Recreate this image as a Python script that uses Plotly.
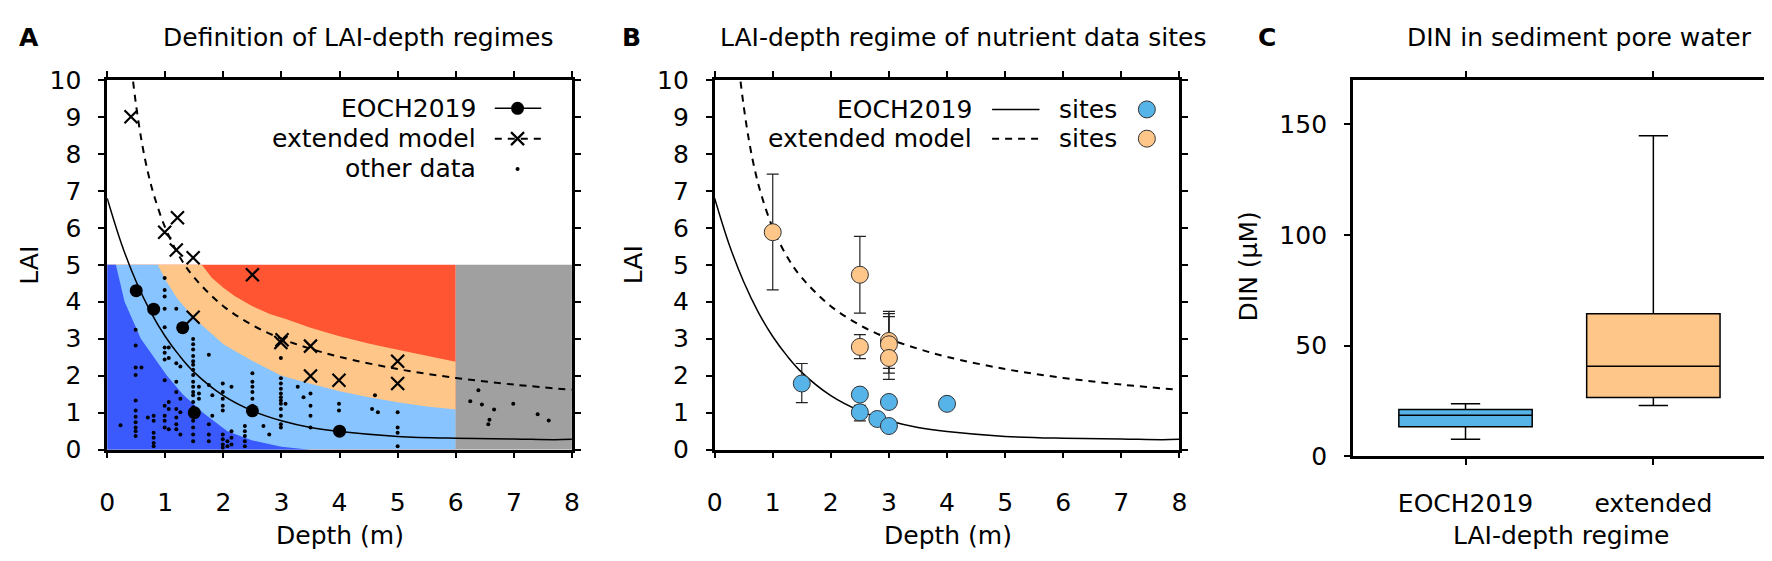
import plotly.graph_objects as go

W, H = 1772, 561
FONT = "DejaVu Sans"
FS = 25

# ---------------- data ----------------
# model curves (Depth m, LAI)
eoch_curve_depth = [0, 0.25, 0.5, 0.75, 1.0, 1.25, 1.5, 2.0, 2.5, 3.0, 3.5, 4.0, 5.0, 6.0, 7.0, 7.7, 8.0]
eoch_curve_lai = [6.80, 5.55, 4.54, 3.72, 3.06, 2.53, 2.09, 1.46, 1.05, 0.78, 0.60, 0.49, 0.36, 0.31, 0.29, 0.27, 0.28]
ext_curve_depth = [0.42, 0.5, 0.6, 0.7, 0.8, 1.0, 1.25, 1.5, 2.0, 2.5, 3.0, 3.5, 4.0, 5.0, 6.0, 7.0, 8.0]
ext_curve_lai = [10.3, 9.29, 8.28, 7.51, 6.91, 6.00, 5.21, 4.65, 3.88, 3.37, 3.00, 2.73, 2.51, 2.18, 1.94, 1.76, 1.62]

# regime boundaries (panel A)
regime_lai_max = 5
regime_depth_max = 6
depth_max = 8
red_bound_depth = [1.63, 1.8, 2.0, 2.2, 2.5, 2.8, 3.1, 3.5, 4.0, 4.5, 5.0, 5.5, 6.0]
red_bound_lai = [5.0, 4.65, 4.38, 4.15, 3.88, 3.67, 3.52, 3.30, 3.07, 2.87, 2.70, 2.53, 2.38]
orange_bound_depth = [0.87, 1.0, 1.2, 1.5, 1.75, 2.0, 2.5, 3.0, 3.5, 4.0, 4.5, 5.0, 5.5, 6.0]
orange_bound_lai = [5.0, 4.6, 4.1, 3.55, 3.2, 2.85, 2.4, 2.0, 1.78, 1.58, 1.42, 1.28, 1.17, 1.09]
dark_bound_depth = [0.15, 0.3, 0.58, 1.03, 1.3, 1.65, 2.07, 2.5, 3.0, 3.5]
dark_bound_lai = [5.0, 4.0, 3.0, 2.0, 1.5, 1.0, 0.5, 0.25, 0.08, 0.0]

# EOCH2019 points (panel A)
eoch_pts_depth = [0.5, 0.8, 1.3, 1.5, 2.5, 4.0]
eoch_pts_lai = [4.3, 3.8, 3.3, 1.0, 1.05, 0.5]
# extended model points (panel A)
ext_pts_depth = [0.41, 0.99, 1.21, 1.19, 1.48, 1.48, 2.5, 2.99, 3.01, 3.5, 3.5, 3.99, 5.0, 5.0]
ext_pts_lai = [9.0, 5.88, 6.27, 5.40, 5.19, 3.58, 4.73, 2.90, 2.97, 2.80, 1.99, 1.88, 2.39, 1.79]

# other data (panel A)
other_depth = (
    [0.23]
    + [0.49] * 11
    + [0.59, 0.7]
    + [0.8] * 6
    + [0.99] * 13
    + [1.06] * 5
    + [1.19] * 8
    + [1.26] * 4
    + [1.48] * 18
    + [1.58] * 3
    + [1.75] * 5
    + [1.81] * 2
    + [1.99] * 9
    + [2.07] * 2
    + [2.14] * 4
    + [2.37] * 5
    + [2.5] * 6
    + [2.69, 2.79]
    + [2.99] * 12
    + [3.07, 3.28, 3.38]
    + [3.5] * 4
    + [3.99] * 2
    + [4.56, 4.61, 4.66]
    + [5.0] * 4
    + [6.39, 6.25, 6.45, 6.66, 6.58, 6.56, 6.99, 7.41, 7.60]
)
other_lai = (
    [0.66]
    + [3.24, 2.82, 2.22, 2.02, 1.33, 1.06, 0.89, 0.74, 0.60, 0.50, 0.37]
    + [2.22, 0.87]
    + [0.92, 0.78, 0.46, 0.32, 0.18, 0.09]
    + [4.64, 4.32, 4.14, 3.81, 3.31, 2.76, 2.62, 2.44, 1.88, 1.19, 0.92, 0.78, 0.60]
    + [2.76, 2.48, 1.29, 1.10, 0.55]
    + [3.81, 2.34, 1.84, 1.56, 1.10, 0.87, 0.69, 0.55]
    + [2.25, 1.38, 1.01, 0.41]
    + [2.99, 2.85, 2.71, 2.53, 2.39, 2.30, 2.16, 2.02, 1.84, 1.70, 1.56, 1.47, 1.29, 1.15, 0.78, 0.60, 0.41, 0.23]
    + [1.70, 1.52, 1.38]
    + [2.57, 1.75, 0.69, 0.41, 0.23]
    + [1.47, 0.92]
    + [1.79, 1.56, 1.38, 1.19, 1.06, 0.41, 0.28, 0.14, 0.05]
    + [0.23, 0.09]
    + [1.70, 0.50, 0.32, 0.14]
    + [0.64, 0.50, 0.37, 0.23, 0.09]
    + [2.07, 1.84, 1.70, 1.56, 1.38, 1.19]
    + [0.64, 0.41]
    + [2.48, 1.93, 1.79, 1.65, 1.52, 1.42, 1.33, 1.24, 1.10, 0.92, 0.69, 0.60]
    + [1.24, 1.70, 1.42]
    + [1.52, 1.19, 0.92, 0.60]
    + [1.24, 1.06]
    + [1.10, 1.47, 1.01]
    + [1.01, 0.60, 0.46, 0.09]
    + [1.61, 1.31, 1.22, 1.09, 0.81, 0.69, 1.24, 0.96, 0.79]
)

# panel B sites
blue_depth = [1.5, 2.5, 2.5, 2.8, 3.0, 3.0, 4.0]
blue_lai = [1.79, 1.49, 1.01, 0.83, 1.29, 0.64, 1.24]
blue_hi = [2.33, 1.49, 1.20, 0.83, 1.29, 0.64, 1.24]
blue_lo = [1.27, 1.49, 0.78, 0.83, 1.29, 0.64, 1.24]
orange_depth = [1.0, 2.5, 2.5, 3.0, 3.0, 3.0]
orange_lai = [5.88, 4.73, 2.78, 2.94, 2.85, 2.48]
orange_hi = [7.45, 5.77, 3.11, 3.74, 3.68, 3.60]
orange_lo = [4.32, 3.69, 2.46, 2.07, 2.20, 1.90]

# panel C boxes
box_cats = ["EOCH2019", "extended"]
box_low = [7.7, 23.0]
box_q1 = [13.4, 26.6]
box_med = [18.6, 40.7]
box_q3 = [21.2, 64.4]
box_high = [23.7, 144.8]

# ---------------- styles ----------------
C_DARK = "#3a5afe"
C_LIGHT = "#88c4ff"
C_ORANGE = "#fec688"
C_RED = "#ff5533"
C_GRAY = "#a0a0a0"
C_SITE_BLUE = "#56b4e9"
C_SITE_OR = "#fec688"

fig = go.Figure()


def poly(xs, ys, color, xa="x", ya="y"):
    fig.add_trace(go.Scatter(x=xs, y=ys, mode="lines", fill="toself", fillcolor=color,
                             line=dict(width=0, color=color), hoverinfo="skip",
                             showlegend=False, xaxis=xa, yaxis=ya))


# regions (layered)
poly([0, 0, regime_depth_max, regime_depth_max], [0, regime_lai_max, regime_lai_max, 0], C_RED)
poly([0, 0] + red_bound_depth + [regime_depth_max], [0, regime_lai_max] + red_bound_lai + [0], C_ORANGE)
poly([0, 0] + orange_bound_depth + [regime_depth_max], [0, regime_lai_max] + orange_bound_lai + [0], C_LIGHT)
poly([0, 0] + dark_bound_depth, [0, regime_lai_max] + dark_bound_lai, C_DARK)
poly([regime_depth_max, regime_depth_max, depth_max, depth_max], [0, regime_lai_max, regime_lai_max, 0], C_GRAY)

# other data
fig.add_trace(go.Scatter(x=other_depth, y=other_lai, mode="markers",
                         marker=dict(size=4, color="black"), showlegend=False, xaxis="x", yaxis="y"))

for xa, ya in [("x", "y"), ("x2", "y2")]:
    fig.add_trace(go.Scatter(x=eoch_curve_depth, y=eoch_curve_lai, mode="lines", line_shape="spline",
                             line=dict(color="black", width=1.5), showlegend=False, xaxis=xa, yaxis=ya))
    fig.add_trace(go.Scatter(x=ext_curve_depth, y=ext_curve_lai, mode="lines", line_shape="spline",
                             line=dict(color="black", width=2, dash="7px,6px"), showlegend=False,
                             xaxis=xa, yaxis=ya))

fig.add_trace(go.Scatter(x=eoch_pts_depth, y=eoch_pts_lai, mode="markers",
                         marker=dict(size=13, color="black"), showlegend=False, xaxis="x", yaxis="y"))
fig.add_trace(go.Scatter(x=ext_pts_depth, y=ext_pts_lai, mode="markers",
                         marker=dict(size=13, symbol="x-thin", line=dict(width=2.2, color="black"), color="black"),
                         showlegend=False, xaxis="x", yaxis="y"))

# panel B sites
def err(vals, hi, lo):
    return dict(type="data", symmetric=False,
                array=[h - v for h, v in zip(hi, vals)],
                arrayminus=[v - l for v, l in zip(vals, lo)],
                color="#222222", thickness=1.2, width=6)

fig.add_trace(go.Scatter(x=orange_depth, y=orange_lai, mode="markers", error_y=err(orange_lai, orange_hi, orange_lo),
                         marker=dict(size=17, color=C_SITE_OR, line=dict(width=1, color="#333333")),
                         showlegend=False, xaxis="x2", yaxis="y2"))
fig.add_trace(go.Scatter(x=blue_depth, y=blue_lai, mode="markers", error_y=err(blue_lai, blue_hi, blue_lo),
                         marker=dict(size=17, color=C_SITE_BLUE, line=dict(width=1, color="#333333")),
                         showlegend=False, xaxis="x2", yaxis="y2"))

# panel C boxes
for i, col in enumerate([C_SITE_BLUE, C_SITE_OR]):
    fig.add_trace(go.Box(x=[box_cats[i]], q1=[box_q1[i]], median=[box_med[i]], q3=[box_q3[i]],
                         lowerfence=[box_low[i]], upperfence=[box_high[i]],
                         fillcolor=col, line=dict(color="black", width=1.5), whiskerwidth=0.22,
                         width=0.71, boxpoints=False, showlegend=False, xaxis="x3", yaxis="y3"))

# ---------------- layout ----------------
tickfont = dict(family=FONT, size=FS, color="black")
axis_common = dict(showline=True, linewidth=2.5, linecolor="black", mirror="ticks", ticks="outside",
                   ticklen=6, tickwidth=2, tickcolor="black", showgrid=False, zeroline=False,
                   tickfont=tickfont)

def dom_x(a, b):
    return [a / W, b / W]

def dom_y(top, bottom):
    return [1 - bottom / H, 1 - top / H]

XSO, YSO = 23, 12
fig.update_layout(
    width=W, height=H, autosize=False, margin=dict(l=0, r=0, t=0, b=0),
    plot_bgcolor="white", paper_bgcolor="white", showlegend=False,
    font=dict(family=FONT, size=FS, color="black"),
    xaxis=dict(domain=dom_x(92, 561), anchor="y", range=[0, 8], dtick=1, ticklabelstandoff=XSO, **axis_common),
    yaxis=dict(domain=dom_y(61, 451), anchor="x", range=[0, 10], dtick=1, ticklabelstandoff=YSO, **axis_common),
    xaxis2=dict(domain=dom_x(705, 1174), anchor="y2", range=[0, 8], dtick=1, ticklabelstandoff=XSO, **axis_common),
    yaxis2=dict(domain=dom_y(61, 451), anchor="x2", range=[0, 10], dtick=1, ticklabelstandoff=YSO, **axis_common),
    xaxis3=dict(domain=dom_x(1349, 1766), anchor="y3", type="category", range=[-0.6, 1.6],
                ticklabelstandoff=XSO - 6, **axis_common),
    yaxis3=dict(domain=dom_y(61, 458), anchor="x3", range=[0, 170], tickvals=[0, 50, 100, 150],
                ticklabelstandoff=YSO, **axis_common),
)

ann = []
def text(x, y, s, size=FS, bold=False, angle=0, xanchor="center"):
    ann.append(dict(x=x / W, y=1 - y / H, xref="paper", yref="paper", text=("<b>%s</b>" % s) if bold else s,
                    showarrow=False, font=dict(family=FONT, size=size, color="black"), textangle=angle,
                    xanchor=xanchor, yanchor="middle"))

# panel letters and titles
text(13, 16, "A", 25, bold=True)
text(621, 16, "B", 25, bold=True)
text(1262, 16, "C", 25, bold=True)
text(345, 16, "Definition of LAI-depth regimes", FS)
text(956, 16, "LAI-depth regime of nutrient data sites", FS)
text(1578, 16, "DIN in sediment pore water", FS)
# axis titles
text(14, 256, "LAI", FS, angle=-90)
text(623, 256, "LAI", FS, angle=-90)
text(1244, 258, "DIN (µM)", FS, angle=-90)
text(327, 541, "Depth (m)", FS)
text(940, 541, "Depth (m)", FS)
text(1559, 541, "LAI-depth regime", FS)

# legends (gnuplot style: right-aligned text, sample at right)
def legend_text(xd, yd, s, xr="x", yr="y"):
    ann.append(dict(x=xd, y=yd, xref=xr + " domain", yref=yr + " domain", text=s, showarrow=False,
                    font=dict(family=FONT, size=FS, color="black"), xanchor="right", yanchor="middle"))

legend_text(0.797, 0.923, "EOCH2019")
legend_text(0.797, 0.841, "extended model")
legend_text(0.797, 0.759, "other data")
legend_text(0.559, 0.920, "EOCH2019", "x2", "y2")
legend_text(0.559, 0.841, "extended model", "x2", "y2")
legend_text(0.870, 0.920, "sites", "x2", "y2")
legend_text(0.870, 0.841, "sites", "x2", "y2")

shapes = []
def sline(x0, x1, y, xr="x", yr="y", dash="solid", w=1.5):
    shapes.append(dict(type="line", xref=xr + " domain", yref=yr + " domain", x0=x0, x1=x1, y0=y, y1=y,
                       line=dict(color="black", width=w, dash=dash)))

def sdot(xc, yc, r, fill, xr="x", yr="y", lw=0, lc="black"):
    shapes.append(dict(type="circle", xref=xr + " domain", yref=yr + " domain", xsizemode="pixel",
                       ysizemode="pixel", xanchor=xc, yanchor=yc, x0=-r, x1=r, y0=-r, y1=r,
                       fillcolor=fill, line=dict(width=lw, color=lc)))

def scross(xc, yc, r, xr="x", yr="y"):
    for a, b in [(-r, r), (r, -r)]:
        shapes.append(dict(type="line", xref=xr + " domain", yref=yr + " domain", xsizemode="pixel",
                           ysizemode="pixel", xanchor=xc, yanchor=yc, x0=-r, x1=r, y0=a, y1=b,
                           line=dict(color="black", width=2.2)))

sline(0.834, 0.934, 0.923)
sdot(0.883, 0.923, 6.5, "black")
sline(0.834, 0.934, 0.841, dash="7px,6px", w=2)
scross(0.883, 0.841, 6.5)
sdot(0.883, 0.759, 2, "black")
sline(0.597, 0.699, 0.920, "x2", "y2")
sline(0.597, 0.699, 0.841, "x2", "y2", dash="7px,6px", w=2)
sdot(0.930, 0.920, 8.5, C_SITE_BLUE, "x2", "y2", 1, "#333333")
sdot(0.930, 0.841, 8.5, C_SITE_OR, "x2", "y2", 1, "#333333")

fig.update_layout(annotations=ann, shapes=shapes)
fig.write_html("out.html")
